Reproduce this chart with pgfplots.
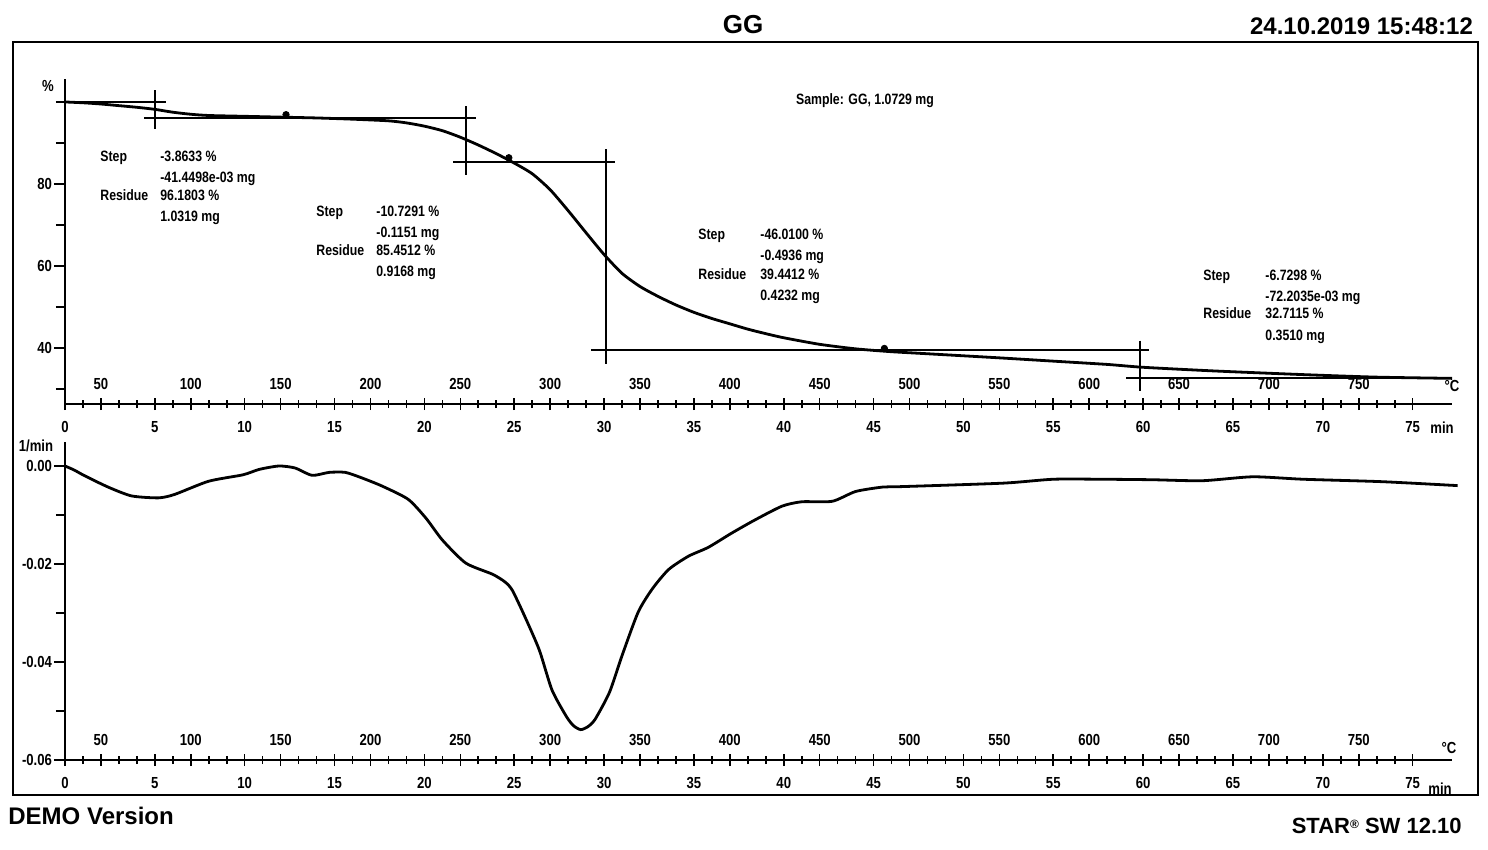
\documentclass[border=0pt]{standalone}
\usepackage{fontspec}
\setmainfont{Liberation Sans}
\newfontfamily\cnd[FakeStretch=0.82]{Liberation Sans}
\usepackage{pgfplots}
\pgfplotsset{compat=1.18}
\newcommand\tl{\cnd\bfseries\fontsize{8}{8}\selectfont}
\newcommand\an{\cnd\bfseries\fontsize{7.5}{8}\selectfont}
\newcommand\stepblock[7]{%
 \node[font=\an,anchor=base west,inner sep=0pt] at (#1,#3) {Step};
 \node[font=\an,anchor=base west,inner sep=0pt] at (#2,#3) {#4};
 \node[font=\an,anchor=base west,inner sep=0pt] at (#2,{#3+21}) {#5};
 \node[font=\an,anchor=base west,inner sep=0pt] at (#1,{#3+39}) {Residue};
 \node[font=\an,anchor=base west,inner sep=0pt] at (#2,{#3+39}) {#6};
 \node[font=\an,anchor=base west,inner sep=0pt] at (#2,{#3+60}) {#7};}
\pgfplotsset{ruler/.style={
  scale only axis, clip=false,
  xmin=0, xmax=77.2, width=693.6pt,
  axis x line*=bottom, axis y line*=left,
  axis line style={line width=1pt},
  xtick={0,5,...,75},
  minor x tick num=4,
  tick align=center,
  major tick length=6pt, minor tick length=4pt,
  every tick/.style={line width=0.8pt, black},
  ytick style={xshift=-2.5pt},
  tick label style={font=\tl},
  xticklabel style={yshift=-2pt},
  scaled ticks=false,
  extra x ticks={2,7,...,72},
  extra x tick labels={50,100,150,200,250,300,350,400,450,500,550,600,650,700,750},
  extra x tick style={tick label style={anchor=south, yshift=8.5pt}},
  /pgf/number format/assume math mode=true,
}}
\begin{document}
\begin{tikzpicture}
\path[use as bounding box] (0,0) rectangle (744pt,-425pt);
\begin{scope}[x=0.5pt,y=-0.5pt]
\draw[line width=1.1pt] (13,42) rectangle (1478,795);
\node[font=\bfseries\fontsize{13}{13}\selectfont] at (743,25) {GG};
\node[anchor=east,font=\bfseries\fontsize{12}{12}\selectfont] at (1480,26) {24.10.2019 15:48:12};
\node[anchor=west,font=\bfseries\fontsize{12}{12}\selectfont,inner sep=0pt] at (8,816) {DEMO Version};
\node[anchor=east,font=\bfseries\fontsize{11}{11}\selectfont,inner sep=0pt] at (1462,826) {STAR{\fontsize{6}{6}\selectfont\raisebox{0.8ex}{\textregistered}} SW 12.10};
\node[font=\an] at (865,101) {Sample: GG, 1.0729 mg};
\node[font=\tl] at (48,86) {\%};
\node[font=\tl] at (36,446) {1/min};
\node[font=\tl] at (1452,386) {°C};
\node[font=\tl] at (1449,748) {°C};
\node[font=\tl] at (1442,428) {min};
\node[font=\tl] at (1440,789) {min};
\stepblock{100}{160}{162}{-3.8633 \%}{-41.4498e-03 mg}{96.1803 \%}{1.0319 mg}
\stepblock{316}{376}{217}{-10.7291 \%}{-0.1151 mg}{85.4512 \%}{0.9168 mg}
\stepblock{698}{760}{240}{-46.0100 \%}{-0.4936 mg}{39.4412 \%}{0.4232 mg}
\stepblock{1203}{1265}{280}{-6.7298 \%}{-72.2035e-03 mg}{32.7115 \%}{0.3510 mg}
\end{scope}

% ---------- TGA ----------
\begin{axis}[ruler,
  at={(32.5pt,-202.1pt)}, anchor=south west,
  ymin=26.3, ymax=105.6, height=162.6pt,
  ytick={40,60,80}, minor ytick={30,50,70,90,100},
]
\addplot[line width=1.4pt, black, smooth, tension=0.4] coordinates {
(0,100.0)(1,99.8)(2,99.5)(3,99.1)(4,98.7)(5,98.2)(6,97.5)(7,97.0)(8,96.7)
(10,96.5)(12,96.3)(14,96.1)(16,95.8)(18,95.4)(19,94.9)(20,94.1)(21,93.0)
(22,91.4)(23,89.5)(24,87.4)(25,85.1)(26,82.5)(27,78.6)(28,73.5)(29,68.1)
(30,62.8)(31,58.2)(32,55.0)(33,52.6)(34,50.5)(35,48.7)(36,47.2)(37,45.9)
(38,44.6)(39,43.5)(40,42.5)(42,40.9)(44,39.8)(46,39.1)(48,38.6)(52,37.6)
(55,36.8)(58,36.0)(60,35.3)(64,34.4)(69,33.5)(73,32.9)(77.2,32.6)};
% step construction lines
\addplot[line width=1pt] coordinates {(-0.5,99.9)(5.6,99.9)};
\addplot[line width=1pt] coordinates {(5.0,102.9)(5.0,93.3)};
\addplot[line width=1pt] coordinates {(4.4,96.18)(22.9,96.18)};
\addplot[line width=1pt] coordinates {(22.3,99.0)(22.3,82.3)};
\addplot[line width=1pt] coordinates {(21.6,85.45)(30.6,85.45)};
\addplot[line width=1pt] coordinates {(30.1,88.5)(30.1,36.1)};
\addplot[line width=1pt] coordinates {(29.3,39.44)(60.3,39.44)};
\addplot[line width=1pt] coordinates {(59.8,41.8)(59.8,29.6)};
\addplot[line width=1pt] coordinates {(59.05,32.71)(77.2,32.71)};
\addplot[only marks, mark=*, mark size=1.6pt, black] coordinates {(12.3,96.9)(24.7,86.4)(45.6,39.9)};
\end{axis}

% ---------- DTG ----------
\begin{axis}[ruler,
  at={(32.5pt,-380pt)}, anchor=south west,
  ymin=-0.06, ymax=0.005, height=159.25pt,
  ytick={-0.06,-0.04,-0.02,0}, yticklabels={-0.06,-0.04,-0.02,0.00},
  minor ytick={-0.05,-0.03,-0.01},
]
\addplot[line width=1.4pt, black, smooth, tension=0.4] coordinates {
(0,0.0000)(0.5,-0.0008)(1.1,-0.0020)(2.4,-0.0043)(3.7,-0.0061)(5.2,-0.0065)
(6.1,-0.0058)(8.0,-0.0031)(9.9,-0.0018)(10.8,-0.0007)(11.9,0.0000)(12.8,-0.0004)
(13.75,-0.0019)(14.7,-0.0013)(15.6,-0.0013)(16.5,-0.0024)(17.65,-0.0041)
(19.1,-0.0068)(20.1,-0.0107)(21.0,-0.0151)(22.3,-0.0198)(23.8,-0.0221)
(24.5,-0.0237)(24.9,-0.0254)(25.6,-0.0308)(26.4,-0.0376)(27.1,-0.0457)
(27.9,-0.0511)(28.3,-0.0530)(28.7,-0.0538)(29.1,-0.0532)(29.5,-0.0517)
(30.3,-0.0462)(31.0,-0.0387)(31.9,-0.0298)(32.7,-0.0250)(33.6,-0.0211)
(34.7,-0.0184)(35.8,-0.0166)(37.1,-0.0137)(38.4,-0.0110)(39.9,-0.0082)
(41.0,-0.0073)(42.7,-0.0072)(44.0,-0.0052)(45.5,-0.0043)(46.6,-0.0042)
(52.2,-0.0035)(55.0,-0.0027)(57.7,-0.0027)(60.5,-0.0028)(63.3,-0.0030)
(66.1,-0.0022)(68.9,-0.0027)(73.3,-0.0032)(77.5,-0.0040)};
\end{axis}
\end{tikzpicture}
\end{document}
